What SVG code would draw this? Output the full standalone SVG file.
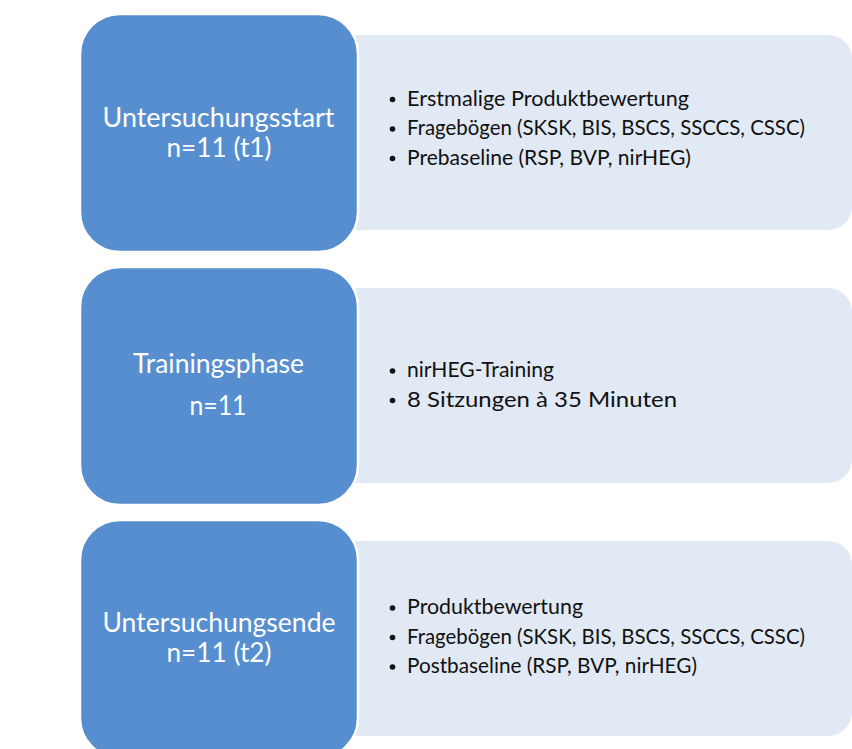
<svg xmlns="http://www.w3.org/2000/svg" width="852" height="749" viewBox="0 0 852 749">
  <style>
    .panel { fill: #E1E9F5; }
    .stage { fill: #578ECF; stroke: #FFFFFF; stroke-width: 2.5; }
    .title { font-family: Lato, "Liberation Sans", sans-serif; font-size: 27px; fill: #FFFFFF; }
    .item { font-family: Lato, "Liberation Sans", sans-serif; font-size: 20.5px; fill: #111111; }
    .bullet { fill: #111111; }
  </style>
  <rect x="0" y="0" width="852" height="749" fill="#FFFFFF"/>

  <g id="panel1">
    <path class="panel" d="M340,35 H828 A24,24 0 0 1 852,59 V206 A24,24 0 0 1 828,230 H340 Z"/>
    <circle class="bullet" cx="392.5" cy="99.5" r="2.8"/>
    <circle class="bullet" cx="392.5" cy="129" r="2.8"/>
    <circle class="bullet" cx="392.5" cy="158.5" r="2.8"/>
    <text class="item" x="407" y="105.5" textLength="282" lengthAdjust="spacingAndGlyphs">Erstmalige Produktbewertung</text>
    <text class="item" x="407" y="135" textLength="398" lengthAdjust="spacingAndGlyphs">Fragebögen (SKSK, BIS, BSCS, SSCCS, CSSC)</text>
    <text class="item" x="407" y="164.5" textLength="284" lengthAdjust="spacingAndGlyphs">Prebaseline (RSP, BVP, nirHEG)</text>
  </g>

  <g id="panel2">
    <path class="panel" d="M340,288 H828 A24,24 0 0 1 852,312 V459 A24,24 0 0 1 828,483 H340 Z"/>
    <circle class="bullet" cx="392.5" cy="371" r="2.8"/>
    <circle class="bullet" cx="392.5" cy="400.5" r="2.8"/>
    <text class="item" x="407" y="377" textLength="147" lengthAdjust="spacingAndGlyphs">nirHEG-Training</text>
    <text class="item" x="407" y="406.5" textLength="270" lengthAdjust="spacingAndGlyphs">8 Sitzungen à 35 Minuten</text>
  </g>

  <g id="panel3">
    <path class="panel" d="M340,541 H828 A24,24 0 0 1 852,565 V712 A24,24 0 0 1 828,736 H340 Z"/>
    <circle class="bullet" cx="392.5" cy="608" r="2.8"/>
    <circle class="bullet" cx="392.5" cy="637.5" r="2.8"/>
    <circle class="bullet" cx="392.5" cy="667" r="2.8"/>
    <text class="item" x="407" y="614" textLength="176" lengthAdjust="spacingAndGlyphs">Produktbewertung</text>
    <text class="item" x="407" y="643.5" textLength="398" lengthAdjust="spacingAndGlyphs">Fragebögen (SKSK, BIS, BSCS, SSCCS, CSSC)</text>
    <text class="item" x="407" y="673" textLength="290" lengthAdjust="spacingAndGlyphs">Postbaseline (RSP, BVP, nirHEG)</text>
  </g>

  <g id="stage1">
    <rect class="stage" x="80" y="14" width="278" height="238" rx="40" ry="40"/>
    <text class="title" x="218.5" y="126.5" text-anchor="middle" textLength="232" lengthAdjust="spacingAndGlyphs">Untersuchungsstart</text>
    <text class="title" x="219" y="156.5" text-anchor="middle" textLength="105" lengthAdjust="spacingAndGlyphs">n=11 (t1)</text>
  </g>

  <g id="stage2">
    <rect class="stage" x="80" y="267" width="278" height="238" rx="40" ry="40"/>
    <text class="title" x="218.5" y="373" text-anchor="middle" textLength="171" lengthAdjust="spacingAndGlyphs">Trainingsphase</text>
    <text class="title" x="218" y="415" text-anchor="middle" textLength="57" lengthAdjust="spacingAndGlyphs">n=11</text>
  </g>

  <g id="stage3">
    <rect class="stage" x="80" y="520" width="278" height="238" rx="40" ry="40"/>
    <text class="title" x="219" y="631.5" text-anchor="middle" textLength="233" lengthAdjust="spacingAndGlyphs">Untersuchungsende</text>
    <text class="title" x="219" y="661.5" text-anchor="middle" textLength="105" lengthAdjust="spacingAndGlyphs">n=11 (t2)</text>
  </g>
</svg>
